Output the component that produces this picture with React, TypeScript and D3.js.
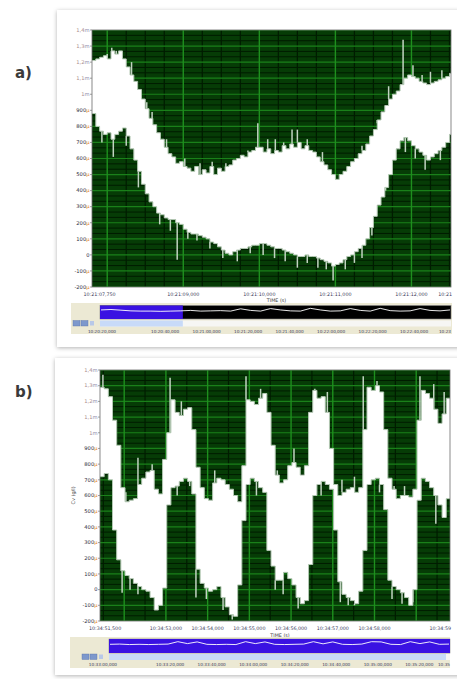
import React from "react";
import * as d3 from "d3";

// ---------- shared axis data ----------
const Y_TICK_VALUES = [1.4, 1.3, 1.2, 1.1, 1.0, 0.9, 0.8, 0.7, 0.6, 0.5, 0.4, 0.3, 0.2, 0.1, 0, -0.1, -0.2];
const Y_TICK_NUM = ["1,4", "1,3", "1,2", "1,1", "1", "900", "800", "700", "600", "500", "400", "300", "200", "100", "0", "-100", "-200"];
const Y_TICK_UNIT = ["m", "m", "m", "m", "m", "µ", "µ", "µ", "µ", "µ", "µ", "µ", "µ", "µ", "", "µ", "µ"];

// ---------- panel a data ----------
const A_STEP = 0.05;
const A_DOMAIN: [number, number] = [0, 4.72];
const A_UPPER = [
  1.21, 1.22, 1.23, 1.24, 1.22, 1.27, 1.25, 1.27, 1.22, 1.17,
  1.12, 1.08, 1.03, 0.97, 0.91, 0.85, 0.81, 0.76, 0.72, 0.67,
  0.63, 0.61, 0.57, 0.58, 0.55, 0.54, 0.52, 0.55, 0.50, 0.53,
  0.51, 0.55, 0.50, 0.54, 0.52, 0.55, 0.56, 0.59, 0.60, 0.62,
  0.61, 0.64, 0.65, 0.67, 0.67, 0.64, 0.66, 0.63, 0.65, 0.64,
  0.68, 0.66, 0.69, 0.67, 0.70, 0.66, 0.68, 0.65, 0.64, 0.61,
  0.58, 0.56, 0.53, 0.50, 0.47, 0.50, 0.52, 0.55, 0.58, 0.60,
  0.63, 0.65, 0.69, 0.74, 0.78, 0.84, 0.89, 0.93, 0.97, 1.00,
  1.02, 1.06, 1.10, 1.12, 1.11, 1.10, 1.08, 1.07, 1.06, 1.07,
  1.08, 1.09, 1.10, 1.11, 1.13,
];
const A_LOWER = [
  0.88, 0.80, 0.77, 0.75, 0.76, 0.72, 0.75, 0.77, 0.79, 0.74,
  0.66, 0.59, 0.52, 0.44, 0.38, 0.33, 0.30, 0.26, 0.25, 0.23,
  0.22, 0.22, 0.20, 0.19, 0.16, 0.14, 0.13, 0.13, 0.12, 0.11,
  0.10, 0.08, 0.07, 0.05, 0.03, 0.01, 0.00, 0.02, 0.03, 0.04,
  0.04, 0.05, 0.06, 0.06, 0.07, 0.07, 0.06, 0.05, 0.04, 0.04,
  0.03, 0.02, 0.01, 0.00, -0.01, -0.01, 0.00, -0.01, -0.01, -0.02,
  -0.03, -0.04, -0.05, -0.07, -0.06, -0.05, -0.03, -0.01, 0.00, 0.02,
  0.04, 0.06, 0.10, 0.17, 0.24, 0.31, 0.36, 0.42, 0.50, 0.59,
  0.66, 0.71, 0.73, 0.71, 0.68, 0.66, 0.64, 0.62, 0.59, 0.61,
  0.63, 0.65, 0.67, 0.70, 0.75,
];
const A_SPIKES_UP: [number, number][] = [
  [0.2, 1.25], [0.26, 1.29], [0.32, 1.27], [0.52, 1.2], [0.72, 0.95], [0.79, 0.89],
  [0.98, 0.72], [1.22, 0.6], [1.42, 0.57], [1.58, 0.58], [1.76, 0.57], [1.93, 0.6],
  [2.05, 0.65], [2.18, 0.82], [2.31, 0.72], [2.41, 0.72], [2.52, 0.7], [2.63, 0.78],
  [2.7, 0.78], [2.83, 0.72], [3.03, 0.64], [3.36, 0.55], [3.55, 0.68], [3.75, 0.82],
  [3.9, 1.05], [4.09, 1.34], [4.22, 1.18], [4.34, 1.12], [4.45, 1.14], [4.6, 1.15],
];
const A_SPIKES_DOWN: [number, number][] = [
  [0.13, 0.7], [0.28, 0.61], [0.45, 0.68], [0.61, 0.42], [0.89, 0.19], [1.03, 0.15],
  [1.12, -0.03], [1.26, 0.1], [1.38, 0.09], [1.55, 0.04], [1.72, -0.02], [1.91, -0.04],
  [2.08, 0.01], [2.25, 0.0], [2.4, -0.02], [2.54, -0.04], [2.7, -0.08], [2.83, -0.05],
  [2.97, -0.08], [3.08, -0.09], [3.17, -0.16], [3.33, -0.09], [3.45, -0.05], [3.55, -0.02],
  [3.68, 0.12], [3.86, 0.4], [4.12, 0.64], [4.25, 0.6], [4.38, 0.53], [4.58, 0.59],
];
const A_GRID_X = [0.2, 1.2, 2.2, 3.2, 4.2];
const A_XLABEL_T = [0.06, 1.2, 2.2, 3.2, 4.2, 4.72];
const A_XLABELS = ["10:21:07,750", "10:21:09,000", "10:21:10,000", "10:21:11,000", "10:21:12,000", "10:21"];
const A_NAV_WAVE = [
  0.70, 0.74, 0.68, 0.62, 0.60, 0.60, 0.58, 0.60, 0.62, 0.66,
  0.60, 0.62, 0.64, 0.60, 0.80, 0.66, 0.60, 0.82, 0.70, 0.62,
  0.60, 0.84, 0.70, 0.60, 0.62, 0.82, 0.66, 0.60, 0.84, 0.64,
  0.60, 0.62, 0.82, 0.66, 0.62, 0.70,
];
const A_NAV_SEL: [number, number] = [0, 0.236];
const A_NAV_T = [2.4, 17.6, 27.6, 37.6, 47.6, 57.6, 67.6, 77.6, 86.5];
const A_NAV_LABELS = ["10:20:20,000", "10:20:40,000", "10:21:00,000", "10:21:20,000", "10:21:40,000", "10:22:00,000", "10:22:20,000", "10:22:40,000", "10:23"];

// ---------- panel b data ----------
const B_STEP = 0.1;
const B_DOMAIN: [number, number] = [0, 8.39];
const B_UPPER = [
  1.29, 1.28, 1.23, 1.08, 0.92, 0.65, 0.56, 0.57, 0.58, 0.67,
  0.71, 0.75, 0.76, 0.64, 0.61, 0.83, 1.00, 1.21, 1.13, 1.11,
  1.15, 1.16, 1.02, 0.78, 0.65, 0.58, 0.57, 0.68, 0.71, 0.70,
  0.67, 0.64, 0.60, 0.56, 0.79, 1.21, 1.20, 1.18, 1.22, 1.25,
  1.13, 0.92, 0.73, 0.68, 0.70, 0.79, 0.81, 0.78, 0.73, 0.79,
  1.13, 1.27, 1.22, 1.23, 1.13, 0.90, 0.67, 0.60, 0.62, 0.64,
  0.65, 0.62, 0.65, 1.02, 1.29, 1.27, 1.30, 1.26, 1.02, 0.71,
  0.64, 0.58, 0.60, 0.60, 0.59, 0.64, 1.08, 1.27, 1.25, 1.22,
  1.15, 1.06, 1.12, 1.22,
];
const B_LOWER = [
  0.72, 0.74, 0.70, 0.38, 0.19, 0.12, 0.09, 0.07, 0.04, 0.02,
  0.00, -0.01, -0.05, -0.13, -0.10, 0.01, 0.54, 0.65, 0.66, 0.69,
  0.71, 0.69, 0.61, 0.13, 0.04, 0.01, -0.01, 0.00, 0.02, -0.05,
  -0.11, -0.16, -0.17, 0.03, 0.44, 0.67, 0.71, 0.69, 0.65, 0.62,
  0.25, 0.15, 0.06, 0.06, 0.11, 0.07, 0.03, -0.05, -0.09, -0.07,
  0.16, 0.60, 0.67, 0.69, 0.67, 0.64, 0.38, 0.05, -0.03, -0.05,
  -0.07, -0.09, -0.01, 0.25, 0.67, 0.70, 0.71, 0.67, 0.51, 0.06,
  0.02, 0.00, -0.02, -0.05, -0.10, 0.00, 0.57, 0.71, 0.69, 0.65,
  0.60, 0.54, 0.46, 0.58,
];
const B_SPIKES_UP: [number, number][] = [
  [0.07, 1.37], [0.62, 0.62], [0.91, 0.84], [1.25, 0.8], [1.68, 1.35], [1.95, 1.2],
  [2.15, 0.66], [2.45, 0.62], [2.75, 0.76], [3.5, 1.36], [3.85, 1.28], [4.25, 0.76],
  [4.65, 0.9], [5.15, 1.28], [5.45, 1.26], [5.8, 0.7], [6.1, 0.72], [6.31, 1.36],
  [6.64, 1.33], [7.05, 0.66], [7.3, 0.66], [7.67, 1.36], [8.0, 1.31], [8.25, 1.26],
];
const B_SPIKES_DOWN: [number, number][] = [
  [0.53, -0.02], [0.72, 0.0], [0.91, -0.03], [1.85, 0.6], [2.3, -0.05], [2.55, -0.06],
  [2.95, -0.13], [3.17, -0.19], [3.75, 0.6], [4.2, 0.0], [4.39, -0.03], [4.75, -0.12],
  [5.3, 0.6], [5.76, -0.08], [5.95, -0.1], [6.1, -0.1], [6.7, 0.62], [7.0, -0.06],
  [7.24, -0.09], [7.5, -0.08], [8.05, 0.42],
];
const B_GRID_X = [0.58, 1.58, 2.58, 3.58, 4.58, 5.58, 6.58, 7.58];
const B_XLABEL_T = [0.05, 1.58, 2.58, 3.58, 4.58, 5.58, 6.58, 8.39];
const B_XLABELS = ["10:34:51,500", "10:34:53,000", "10:34:54,000", "10:34:55,000", "10:34:56,000", "10:34:57,000", "10:34:58,000", "10:34:59"];
const B_NAV_WAVE = [
  0.64, 0.66, 0.62, 0.64, 0.62, 0.64, 0.66, 0.86, 0.70, 0.84,
  0.64, 0.62, 0.64, 0.62, 0.86, 0.70, 0.84, 0.64, 0.62, 0.64,
  0.66, 0.86, 0.68, 0.84, 0.64, 0.62, 0.66, 0.86, 0.84, 0.64,
  0.62, 0.86, 0.70, 0.84, 0.64, 0.66,
];
const B_NAV_SEL: [number, number] = [0, 1];
const B_NAV_T = [0.7, 16.9, 26.9, 36.9, 46.9, 56.9, 66.9, 76.9, 84.3];
const B_NAV_LABELS = ["10:33:00,000", "10:33:20,000", "10:33:40,000", "10:34:00,000", "10:34:20,000", "10:34:40,000", "10:35:00,000", "10:35:20,000", "10:35"];

type Box = { x: number; y: number; w: number; h: number };

type PanelProps = {
  id: string;
  label: string;
  labelPos: [number, number];
  card: Box;
  plot: Box;
  domain: [number, number];
  step: number;
  upper: number[];
  lower: number[];
  spikesUp: [number, number][];
  spikesDown: [number, number][];
  gridX: number[];
  minorDiv: number;
  xLabelT: number[];
  xLabels: string[];
  xLabelY: number;
  timeTitleY: number;
  yTitle?: string;
  nav: Box;
  strip: Box;
  rowY: number;
  buttonsX: number;
  navLabelY: number;
  navWave: number[];
  navSel: [number, number];
  navT: number[];
  navLabels: string[];
  navDomain: [number, number];
};

const FONT = "'DejaVu Sans', Verdana, sans-serif";

function Panel(p: PanelProps) {
  const x = d3.scaleLinear().domain(p.domain).range([p.plot.x, p.plot.x + p.plot.w]);
  const y = d3.scaleLinear().domain([-0.2, 1.4]).range([p.plot.y + p.plot.h, p.plot.y]);

  const pts = p.upper.map((u, i) => ({ t: i * p.step, hi: u, lo: p.lower[i] }));
  const last = pts[pts.length - 1];
  pts.push({ t: p.domain[1], hi: last.hi, lo: last.lo });

  const area = d3
    .area<{ t: number; hi: number; lo: number }>()
    .x((d) => x(d.t))
    .y0((d) => y(d.lo))
    .y1((d) => y(d.hi))
    .curve(d3.curveStepAfter);
  const hiLine = d3
    .line<{ t: number; hi: number; lo: number }>()
    .x((d) => x(d.t))
    .y((d) => y(d.hi))
    .curve(d3.curveStepAfter);
  const loLine = d3
    .line<{ t: number; hi: number; lo: number }>()
    .x((d) => x(d.t))
    .y((d) => y(d.lo))
    .curve(d3.curveStepAfter);

  // minor grid
  const minorX: number[] = [];
  const gstep = p.gridX.length > 1 ? p.gridX[1] - p.gridX[0] : 1;
  for (let k = -p.minorDiv; k < 200; k++) {
    const t = p.gridX[0] + (k * gstep) / p.minorDiv;
    if (k % p.minorDiv === 0) continue;
    if (t > p.domain[0] && t < p.domain[1]) minorX.push(t);
  }
  const minorY: number[] = [];
  Y_TICK_VALUES.slice(1).forEach((v) => {
    minorY.push(v + 0.1 / 3, v + 0.2 / 3);
  });

  const idxOf = (t: number) => Math.min(p.upper.length - 1, Math.max(0, Math.floor(t / p.step + 1e-6)));

  const navX = d3.scaleLinear().domain(p.navDomain).range([p.plot.x, p.plot.x + p.plot.w]);
  const waveX = d3.scaleLinear().domain([0, p.navWave.length - 1]).range([p.strip.x + 1, p.strip.x + p.strip.w - 1]);
  const waveY = d3.scaleLinear().domain([0, 1]).range([p.strip.y + p.strip.h - 1, p.strip.y + 1]);
  const waveLine = d3.line<number>().x((_, i) => waveX(i)).y((d) => waveY(d)).curve(d3.curveLinear);
  const selX0 = p.strip.x + p.navSel[0] * p.strip.w;
  const selX1 = p.strip.x + p.navSel[1] * p.strip.w;

  const anchorFor = (i: number, n: number) => (i === n - 1 ? "end" : "middle");

  return (
    <g>
      <defs>
        <clipPath id={`clip-plot-${p.id}`}>
          <rect x={p.plot.x} y={p.plot.y} width={p.plot.w} height={p.plot.h} />
        </clipPath>
      </defs>
      <rect x={p.card.x} y={p.card.y} width={p.card.w} height={p.card.h} fill="#ffffff" filter="url(#shadow)" />
      <text x={p.labelPos[0]} y={p.labelPos[1]} fontFamily={FONT} fontWeight="bold" fontSize={15} fill="#3a3a3a">
        {p.label}
      </text>

      {/* plot background and grid */}
      <rect x={p.plot.x} y={p.plot.y} width={p.plot.w} height={p.plot.h} fill="#063c06" />
      <g clipPath={`url(#clip-plot-${p.id})`}>
        {minorY.map((v, i) => (
          <line key={`my${i}`} x1={p.plot.x} x2={p.plot.x + p.plot.w} y1={y(v)} y2={y(v)} stroke="#001c00" strokeWidth={1} />
        ))}
        {minorX.map((t, i) => (
          <line key={`mx${i}`} x1={x(t)} x2={x(t)} y1={p.plot.y} y2={p.plot.y + p.plot.h} stroke="#001c00" strokeWidth={1.2} />
        ))}
        {Y_TICK_VALUES.map((v, i) => (
          <line key={`gy${i}`} x1={p.plot.x} x2={p.plot.x + p.plot.w} y1={y(v)} y2={y(v)} stroke="#1a801a" strokeWidth={1.2} />
        ))}
        {p.gridX.map((t, i) => (
          <line key={`gx${i}`} x1={x(t)} x2={x(t)} y1={p.plot.y} y2={p.plot.y + p.plot.h} stroke="#1e8f1e" strokeWidth={1.4} />
        ))}

        {/* signal band */}
        {p.spikesUp.map(([t, v], i) => (
          <line key={`su${i}`} x1={x(t)} x2={x(t)} y1={y(p.upper[idxOf(t)])} y2={y(v)} stroke="#c2d4c2" strokeWidth={1.5} />
        ))}
        {p.spikesDown.map(([t, v], i) => (
          <line key={`sd${i}`} x1={x(t)} x2={x(t)} y1={y(p.lower[idxOf(t)])} y2={y(v)} stroke="#c2d4c2" strokeWidth={1.5} />
        ))}
        <path d={area(pts) || ""} fill="#ffffff" />
        <path d={hiLine(pts) || ""} fill="none" stroke="#b3c8b3" strokeWidth={1} />
        <path d={loLine(pts) || ""} fill="none" stroke="#b3c8b3" strokeWidth={1} />
      </g>
      <rect x={p.plot.x} y={p.plot.y} width={p.plot.w} height={p.plot.h} fill="none" stroke="#6b6b6b" strokeWidth={0.8} />

      {/* y axis */}
      {Y_TICK_VALUES.map((v, i) => (
        <g key={`yl${i}`}>
          <line x1={p.plot.x - 2} x2={p.plot.x} y1={y(v)} y2={y(v)} stroke="#777" strokeWidth={0.7} />
          <text
            x={p.plot.x - 2.5}
            y={y(v) + 1.8}
            textAnchor="end"
            fontFamily={FONT}
            fontSize={5.2}
            fill={i < 5 ? "#a98c8c" : "#2a2a3a"}
          >
            {Y_TICK_NUM[i]}
            <tspan fill={i < 5 ? "#8a8aa8" : "#e07a20"}>{Y_TICK_UNIT[i]}</tspan>
          </text>
        </g>
      ))}
      {p.yTitle && (
        <text
          transform={`translate(${p.plot.x - 25},${y(0.6)}) rotate(-90)`}
          textAnchor="middle"
          fontFamily={FONT}
          fontSize={5}
          fill="#444"
        >
          {p.yTitle}
        </text>
      )}

      {/* x axis */}
      {p.xLabelT.map((t, i) => (
        <text
          key={`xl${i}`}
          x={i === 0 ? x(t) + 3 : i === p.xLabelT.length - 1 ? x(t) + 1 : x(t)}
          y={p.xLabelY}
          textAnchor={anchorFor(i, p.xLabelT.length)}
          fontFamily={FONT}
          fontSize={4.8}
          fill="#3a3a5a"
        >
          {p.xLabels[i]}
        </text>
      ))}
      <text x={p.plot.x + p.plot.w * 0.5 + 5} y={p.timeTitleY} textAnchor="middle" fontFamily={FONT} fontSize={4.8} fill="#3a3a3a">
        TIME (s)
      </text>

      {/* navigator */}
      <rect x={p.nav.x} y={p.nav.y} width={p.nav.w} height={p.nav.h} fill="#ece9d4" />
      <rect x={p.strip.x} y={p.strip.y} width={p.strip.w} height={p.strip.h} fill="#000000" stroke="#888" strokeWidth={0.6} />
      <rect x={selX0} y={p.strip.y} width={selX1 - selX0} height={p.strip.h} fill="#3a12e2" />
      <path d={waveLine(p.navWave) || ""} fill="none" stroke="#ffffff" strokeWidth={0.9} />
      <rect x={p.strip.x} y={p.rowY} width={p.strip.w} height={6} fill="#f6f6f4" />
      <rect x={selX0} y={p.rowY} width={Math.min(selX1 - selX0, p.strip.w - 4)} height={6} fill="#c8daf8" />
      <rect x={p.buttonsX} y={p.rowY} width={7} height={5.5} fill="#7d98cc" stroke="#5a74aa" strokeWidth={0.4} />
      <rect x={p.buttonsX + 8} y={p.rowY} width={7} height={5.5} fill="#7d98cc" stroke="#5a74aa" strokeWidth={0.4} />
      <rect x={p.buttonsX + 17} y={p.rowY + 0.5} width={4} height={4.5} fill="#b8c8e8" />
      {p.navT.map((t, i) => (
        <text
          key={`nl${i}`}
          x={navX(t)}
          y={p.navLabelY}
          textAnchor={anchorFor(i, p.navT.length)}
          fontFamily={FONT}
          fontSize={4.2}
          fill="#3a3a5a"
        >
          {p.navLabels[i]}
        </text>
      ))}
    </g>
  );
}

export default function App() {
  React.useEffect(() => {
    document.body.style.margin = "0";
  }, []);
  return (
    <svg width={457} height={679} style={{ display: "block", position: "absolute", left: 0, top: 0 }} xmlns="http://www.w3.org/2000/svg">
      <defs>
        <filter id="shadow" x="-5%" y="-5%" width="110%" height="110%">
          <feDropShadow dx="0" dy="1" stdDeviation="2.2" floodColor="#000" floodOpacity="0.3" />
        </filter>
      </defs>
      <rect x={0} y={0} width={457} height={679} fill="#ffffff" />
      <Panel
        id="a"
        label="a)"
        labelPos={[15, 78]}
        card={{ x: 57, y: 10, w: 410, h: 337 }}
        plot={{ x: 92, y: 30, w: 359, h: 257 }}
        domain={A_DOMAIN}
        step={A_STEP}
        upper={A_UPPER}
        lower={A_LOWER}
        spikesUp={A_SPIKES_UP}
        spikesDown={A_SPIKES_DOWN}
        gridX={A_GRID_X}
        minorDiv={4}
        xLabelT={A_XLABEL_T}
        xLabels={A_XLABELS}
        xLabelY={296}
        timeTitleY={302}
        nav={{ x: 71, y: 303, w: 381, h: 31 }}
        strip={{ x: 100, y: 305.5, w: 351, h: 13.5 }}
        rowY={320.5}
        buttonsX={73}
        navLabelY={332.5}
        navWave={A_NAV_WAVE}
        navSel={A_NAV_SEL}
        navT={A_NAV_T}
        navLabels={A_NAV_LABELS}
        navDomain={[0, 86.5]}
      />
      <Panel
        id="b"
        label="b)"
        labelPos={[15, 397]}
        card={{ x: 55, y: 358, w: 412, h: 317 }}
        plot={{ x: 100, y: 370, w: 350, h: 251 }}
        domain={B_DOMAIN}
        step={B_STEP}
        upper={B_UPPER}
        lower={B_LOWER}
        spikesUp={B_SPIKES_UP}
        spikesDown={B_SPIKES_DOWN}
        gridX={B_GRID_X}
        minorDiv={2}
        xLabelT={B_XLABEL_T}
        xLabels={B_XLABELS}
        xLabelY={630}
        timeTitleY={637}
        yTitle="Cv (g/l)"
        nav={{ x: 70, y: 637, w: 380, h: 31 }}
        strip={{ x: 109, y: 639, w: 341, h: 14 }}
        rowY={654}
        buttonsX={82}
        navLabelY={666}
        navWave={B_NAV_WAVE}
        navSel={B_NAV_SEL}
        navT={B_NAV_T}
        navLabels={B_NAV_LABELS}
        navDomain={[0, 84.3]}
      />
    </svg>
  );
}
